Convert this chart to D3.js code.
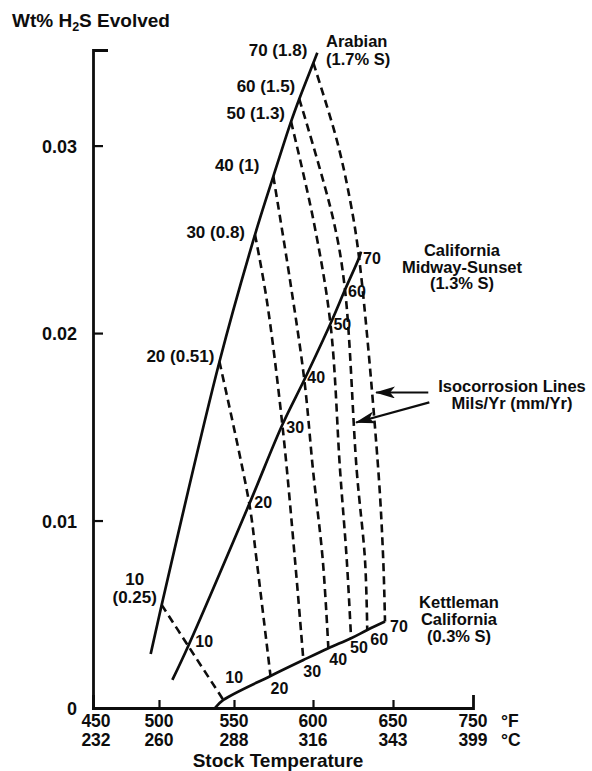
<!DOCTYPE html>
<html><head><meta charset="utf-8">
<script src="https://cdn.jsdelivr.net/npm/d3@7"></script>
<style>
body{margin:0;background:#fff;}
svg text{font-family:"Liberation Sans",Arial,Helvetica,sans-serif;font-weight:bold;fill:#0d0d0d;}
</style></head><body>
<svg id="chart" width="592" height="771"></svg>
<script>
// ================= DATA =================
const xTicksF = [450, 500, 550, 600, 650, 750];
const xTicksC = [232, 260, 288, 316, 343, 399];
const yTicks = [0, 0.01, 0.02, 0.03];
const yTickLabels = ["0", "0.01", "0.02", "0.03"];
const corrosionRates = [10, 20, 30, 40, 50, 60, 70];
const arabianRateLabels = ["10 (0.25)", "20 (0.51)", "30 (0.8)", "40 (1)", "50 (1.3)", "60 (1.5)", "70 (1.8)"];

// crude-oil lines: [stock temperature °F, wt% H2S evolved]
const arabianLine = [[493.7,0.00288],[501.8,0.0055],[540.3,0.01847],[563.3,0.02525],[574.9,0.02836],[586.1,0.03128],[591.3,0.03249],[600.2,0.03441],[602.7,0.03495]];
const midwayLine = [[508.9,0.0015],[519.5,0.00331],[559.7,0.01089],[580.6,0.01511],[594.5,0.01751],[610.9,0.0205],[620,0.02231],[628.8,0.02402],[630,0.02434]];
const kettlemanLine = [[537.3,0],[542.9,0.00043],[573.1,0.00171],[593.9,0.00256],[609.6,0.00319],[623.8,0.00372],[633.9,0.00416],[645,0.00461]];

// isocorrosion lines (mils/yr)
const iso10 = [[501.8,0.0055],[519.5,0.00331],[542.9,0.00043]];
const iso20 = [[540.3,0.01847],[559.7,0.01089],[563.9,0.00817],[573.1,0.00171]];
const iso30 = [[563.3,0.02525],[570.7,0.02178],[580.6,0.01511],[588.6,0.0079],[593.9,0.00256]];
const iso40 = [[574.9,0.02836],[585.4,0.02285],[594.5,0.01751],[600,0.0127],[606.1,0.0079],[609.6,0.00319]];
const iso50 = [[586.1,0.03128],[600.2,0.02605],[610.9,0.0205],[616.9,0.0127],[621.1,0.0079],[623.8,0.00372]];
const iso60 = [[591.3,0.03249],[612.7,0.02605],[620,0.02231],[627.3,0.0127],[632.5,0.0079],[633.9,0.00416]];
const iso70 = [[600.2,0.03441],[614.8,0.03032],[623.1,0.02712],[628.8,0.02402],[640.8,0.0127],[643.9,0.0079],[645,0.00461]];
const isoLines = [iso10, iso20, iso30, iso40, iso50, iso60, iso70];

// points where each rate crosses each crude line
const arabianRatePts = arabianLine.slice(1, 8);
const midwayRatePts = midwayLine.slice(1, 8);
const kettlemanRatePts = kettlemanLine.slice(1, 8);

// arrow annotation targets [tail, tip] in data units
const arrowTargets = [
  [[694.1, 0.01683], [639.4, 0.01683]],
  [[695.4, 0.0163], [626.9, 0.01523]]
];

// ================= LAYOUT =================
const svg = d3.select("#chart");
const x = d3.scaleLinear().domain(xTicksF).range([93, 159, 234, 313, 393, 473]);
const y = d3.scaleLinear().domain([0, 0.0351]).range([708, 50]);
const INK = "#0d0d0d";

const line = d3.line().x(d => x(d[0])).y(d => y(d[1])).curve(d3.curveCatmullRom.alpha(0.5));

// axes
const gy = svg.append("g").attr("transform", "translate(93,0)")
  .call(d3.axisLeft(y).tickValues(yTicks).tickSize(-10).tickSizeOuter(-15)
    .tickPadding(16).tickFormat((d, i) => yTickLabels[i]));
gy.attr("font-family", null).attr("font-size", null);
gy.selectAll("text").attr("font-size", 18).attr("dy", "0.36em");
gy.select(".domain").attr("stroke", INK).attr("stroke-width", 2.8);
gy.selectAll(".tick line").attr("stroke", INK).attr("stroke-width", 2.2);

const gx = svg.append("g").attr("transform", "translate(0,708)")
  .call(d3.axisBottom(x).tickValues([500, 550, 600, 650]).tickSize(-8).tickSizeOuter(-13).tickFormat(""));
gx.select(".domain").attr("stroke", INK).attr("stroke-width", 2.8);
gx.selectAll(".tick line").attr("stroke", INK).attr("stroke-width", 2.2);

// x tick labels (two rows)
const xl = svg.append("g").attr("font-size", 17.5).attr("text-anchor", "middle");
xTicksF.forEach((v, i) => {
  xl.append("text").attr("x", x(v) + (i === 0 ? 3 : 0)).attr("y", 726.5).text(v);
  xl.append("text").attr("x", x(v) + (i === 0 ? 3 : 0)).attr("y", 746).text(xTicksC[i]);
});
svg.append("text").attr("x", 501).attr("y", 726.5).attr("font-size", 17.5).text("°F");
svg.append("text").attr("x", 501).attr("y", 746).attr("font-size", 17.5).text("°C");
svg.append("text").attr("x", 278).attr("y", 767).attr("font-size", 19).attr("text-anchor", "middle").text("Stock Temperature");

// title
const t = svg.append("text").attr("x", 12).attr("y", 27).attr("font-size", 19);
t.append("tspan").text("Wt% H");
t.append("tspan").attr("font-size", 12.5).attr("dy", 4).text("2");
t.append("tspan").attr("dy", -4).text("S Evolved");

// dashed isocorrosion lines
svg.append("g").selectAll("path").data(isoLines).join("path")
  .attr("d", line).attr("fill", "none").attr("stroke", INK)
  .attr("stroke-width", 2.6).attr("stroke-dasharray", "8,5");

// solid crude lines
svg.append("g").selectAll("path").data([arabianLine, midwayLine, kettlemanLine]).join("path")
  .attr("d", line).attr("fill", "none").attr("stroke", INK).attr("stroke-width", 2.7);

// rate labels
const arabOff = [[-27, -20], [-5, 0], [-10, 3], [-14, -5], [-6, -3], [-4, -7], [-6, -7]];
const midOff = [[7, 1], [5, 4], [4, 8], [3, 3], [3, 6], [3, 7], [4, 6]];
const ketOff = [[2, -17], [0, 18], [0, 17], [1, 17], [-1, 15], [3, 15], [5, 10]];

arabianRatePts.forEach((p, i) => {
  const px = x(p[0]), py = y(p[1]);
  if (i === 0) {
    const parts = arabianRateLabels[0].split(" ");
    svg.append("text").attr("x", px + arabOff[0][0]).attr("y", py + arabOff[0][1])
      .attr("font-size", 17).attr("text-anchor", "middle").text(parts[0]);
    svg.append("text").attr("x", px + arabOff[0][0]).attr("y", py + arabOff[0][1] + 18)
      .attr("font-size", 17).attr("text-anchor", "middle").text(parts[1]);
  } else {
    svg.append("text").attr("x", px + arabOff[i][0]).attr("y", py + arabOff[i][1])
      .attr("font-size", 17).attr("text-anchor", "end").text(arabianRateLabels[i]);
  }
});
midwayRatePts.forEach((p, i) => {
  svg.append("text").attr("x", x(p[0]) + midOff[i][0]).attr("y", y(p[1]) + midOff[i][1])
    .attr("font-size", 16).text(corrosionRates[i]);
});
kettlemanRatePts.forEach((p, i) => {
  svg.append("text").attr("x", x(p[0]) + ketOff[i][0]).attr("y", y(p[1]) + ketOff[i][1])
    .attr("font-size", 16).text(corrosionRates[i]);
});

// crude names
function block(lines, xx, ys, anchor, fs) {
  lines.forEach((s, i) => svg.append("text").attr("x", xx).attr("y", ys[i])
    .attr("font-size", fs).attr("text-anchor", anchor).text(s));
}
block(["Arabian", "(1.7% S)"], 326, [47, 64.5], "start", 16.5);
block(["California", "Midway-Sunset", "(1.3% S)"], 462, [256, 272.5, 289], "middle", 16.5);
block(["Kettleman", "California", "(0.3% S)"], 459, [608, 625, 642], "middle", 16.5);
block(["Isocorrosion Lines", "Mils/Yr (mm/Yr)"], 512, [391.5, 409], "middle", 16.5);

// arrows
svg.append("defs").append("marker").attr("id", "ah")
  .attr("viewBox", "0 0 20 12").attr("refX", 19).attr("refY", 6)
  .attr("markerWidth", 20).attr("markerHeight", 12)
  .attr("markerUnits", "userSpaceOnUse").attr("orient", "auto")
  .append("path").attr("d", "M0,0 L20,6 L0,12 L5,6 Z").attr("fill", INK);
svg.append("g").selectAll("line").data(arrowTargets).join("line")
  .attr("x1", d => x(d[0][0])).attr("y1", d => y(d[0][1]))
  .attr("x2", d => x(d[1][0])).attr("y2", d => y(d[1][1]))
  .attr("stroke", INK).attr("stroke-width", 2.2).attr("marker-end", "url(#ah)");
</script>
</body></html>
